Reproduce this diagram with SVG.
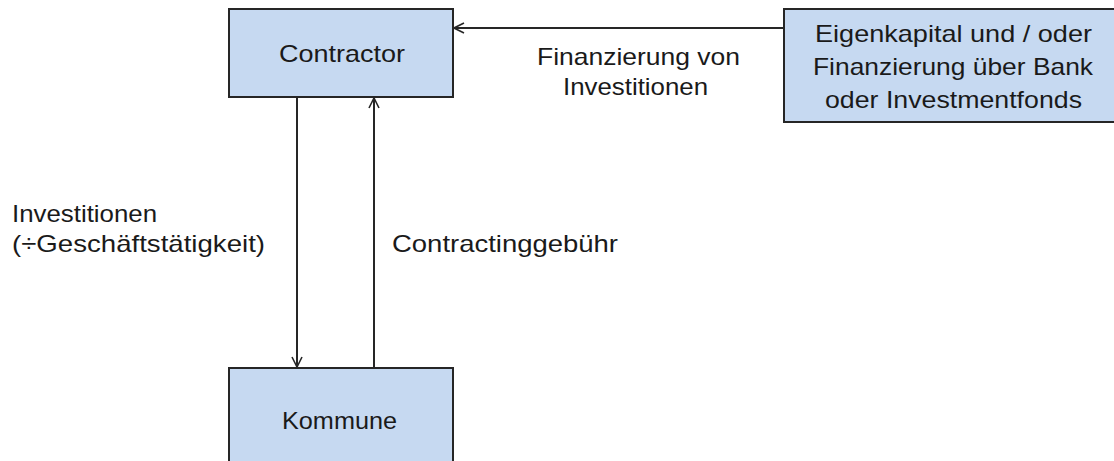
<svg xmlns="http://www.w3.org/2000/svg" width="1114" height="461" viewBox="0 0 1114 461">
<defs>
<style>
.box{fill:#c6d9f1;stroke:#262626;stroke-width:2}
.t{font-family:"Liberation Sans",Arial,sans-serif;font-size:24px;fill:#1a1a1a}
.m{text-anchor:middle}
.ln{stroke:#262626;stroke-width:2;fill:none}
</style>
<marker id="ah" viewBox="0 0 12 12" refX="11" refY="6" markerWidth="12" markerHeight="12" markerUnits="userSpaceOnUse" orient="auto">
<path d="M1,1 L11,6 L1,11" fill="none" stroke="#262626" stroke-width="1.6"/>
</marker>
</defs>
<rect width="1114" height="461" fill="#ffffff"/>
<g id="contractor">
<rect class="box" x="229" y="9" width="224" height="88"/>
<text class="t" x="279" y="62" textLength="126" lengthAdjust="spacingAndGlyphs">Contractor</text>
</g>
<g id="kapital">
<rect class="box" x="784" y="9" width="340" height="113"/>
<text class="t" x="815" y="42" textLength="277" lengthAdjust="spacingAndGlyphs">Eigenkapital und / oder</text>
<text class="t" x="813" y="75" textLength="280" lengthAdjust="spacingAndGlyphs">Finanzierung über Bank</text>
<text class="t" x="825" y="108" textLength="257" lengthAdjust="spacingAndGlyphs">oder Investmentfonds</text>
</g>
<g id="kommune">
<rect class="box" x="229" y="368" width="224" height="110"/>
<text class="t" x="282" y="429" textLength="115" lengthAdjust="spacingAndGlyphs">Kommune</text>
</g>
<g id="connectors">
<line class="ln" x1="784" y1="28" x2="454" y2="28" marker-end="url(#ah)"/>
<line class="ln" x1="297" y1="97" x2="297" y2="367" marker-end="url(#ah)"/>
<line class="ln" x1="374" y1="368" x2="374" y2="98" marker-end="url(#ah)"/>
</g>
<g id="labels">
<text class="t" x="537" y="65" textLength="203" lengthAdjust="spacingAndGlyphs">Finanzierung von</text>
<text class="t" x="563" y="95" textLength="145" lengthAdjust="spacingAndGlyphs">Investitionen</text>
<text class="t" x="12" y="222" textLength="145" lengthAdjust="spacingAndGlyphs">Investitionen</text>
<text class="t" x="12" y="252" textLength="253" lengthAdjust="spacingAndGlyphs">(÷Geschäftstätigkeit)</text>
<text class="t" x="392" y="252" textLength="226" lengthAdjust="spacingAndGlyphs">Contractinggebühr</text>
</g>
</svg>
